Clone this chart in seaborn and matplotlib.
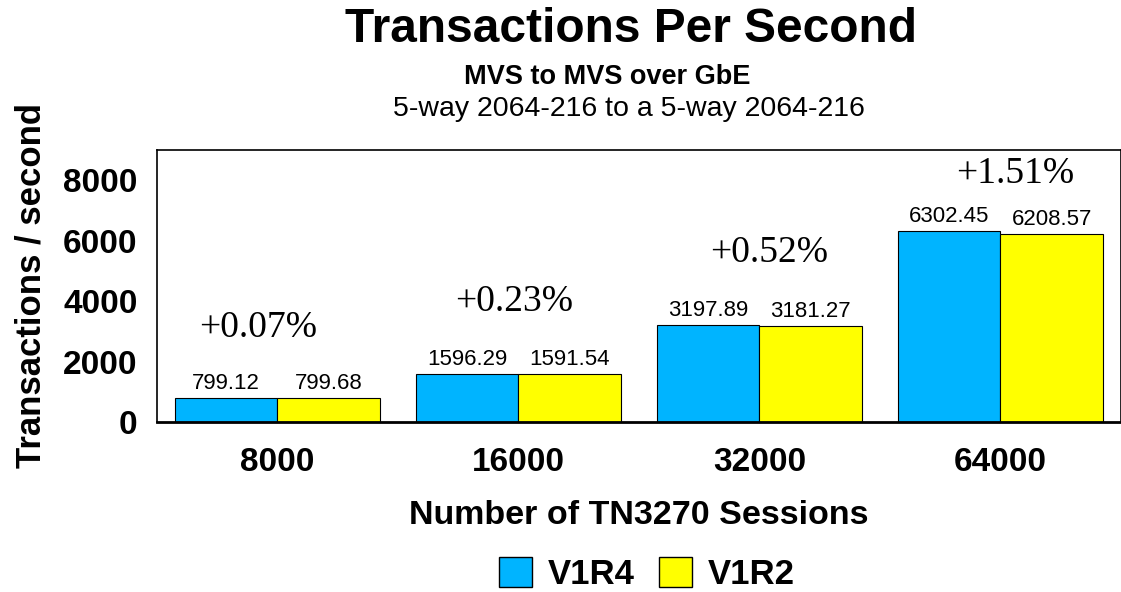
import numpy as np
import pandas as pd
import matplotlib
matplotlib.use("Agg")
import matplotlib.pyplot as plt
import seaborn as sns
from matplotlib.patches import Patch

# --- data ---
sessions = ["8000", "16000", "32000", "64000"]
releases = ["V1R4", "V1R2"]
v1r4_tps = [799.12, 1596.29, 3197.89, 6302.45]
v1r2_tps = [799.68, 1591.54, 3181.27, 6208.57]
pct_labels = ["+0.07%", "+0.23%", "+0.52%", "+1.51%"]

# --- style ---
COLORS = {"V1R4": "#00B4FF", "V1R2": "#FFFF00"}
PCT_Y = [3120, 3980, 5610, 8200]      # where the % notes sit (data units)
PCT_DX = [-0.08, -0.02, 0.04, 0.06]   # small horizontal nudges

sns.set_theme(style="white")
plt.rcParams["font.family"] = ["Liberation Sans", "DejaVu Sans"]
plt.rcParams.update({"text.color": "black", "axes.labelcolor": "black",
                     "xtick.color": "black", "ytick.color": "black"})

df = pd.DataFrame({
    "sessions": sessions * 2,
    "release": [releases[0]] * len(sessions) + [releases[1]] * len(sessions),
    "tps": v1r4_tps + v1r2_tps,
})

fig = plt.figure(figsize=(11.21, 5.92), dpi=100)
ax = fig.add_axes([0.140, 0.287, 0.860, 0.460])

sns.barplot(data=df, x="sessions", y="tps", hue="release", order=sessions,
            hue_order=releases, palette=COLORS, width=0.85, edgecolor="black",
            linewidth=0.8, saturation=1, ax=ax, legend=False)

for cont in ax.containers:
    ax.bar_label(cont, fmt="%.2f", padding=3, fontsize=16)

for i, (lbl, y, dx) in enumerate(zip(pct_labels, PCT_Y, PCT_DX)):
    ax.text(i + dx, y, lbl, ha="center", va="center", fontsize=27,
            family="Liberation Serif")

ax.set_xlim(-0.5, 3.5)
ax.set_ylim(0, 9000)
ax.set_yticks([0, 2000, 4000, 6000, 8000])
ax.tick_params(axis="both", length=0, labelsize=24)
ax.tick_params(axis="y", pad=14)
ax.tick_params(axis="x", pad=18)
for t in ax.get_xticklabels() + ax.get_yticklabels():
    t.set_fontweight("bold")

ax.set_xlabel("Number of TN3270 Sessions", fontsize=24.5, fontweight="bold", labelpad=16)
ax.set_ylabel("Transactions / second", fontsize=25, fontweight="bold")
ax.yaxis.set_label_coords(-0.114, 0.5)

for s in ax.spines.values():
    s.set_color("black")
    s.set_linewidth(1.2)
ax.spines["bottom"].set_linewidth(2)

fig.text(0.563, 0.951, "Transactions Per Second", ha="center", va="center",
         fontsize=34.5, fontweight="bold")
fig.text(0.542, 0.870, "MVS to MVS over GbE", ha="center", va="center",
         fontsize=19.5, fontweight="bold")
fig.text(0.561, 0.816, "5-way 2064-216 to a 5-way 2064-216", ha="center",
         va="center", fontsize=20.5)

handles = [Patch(facecolor=COLORS[r], edgecolor="black", label=r) for r in releases]
leg = fig.legend(handles=handles, loc="center", bbox_to_anchor=(0.577, 0.03),
                 ncol=2, frameon=False, fontsize=25, handlelength=0.95,
                 handleheight=0.95, handletextpad=0.45, columnspacing=0.7)
for t in leg.get_texts():
    t.set_fontweight("bold")

fig.savefig("out.png", dpi=100)
